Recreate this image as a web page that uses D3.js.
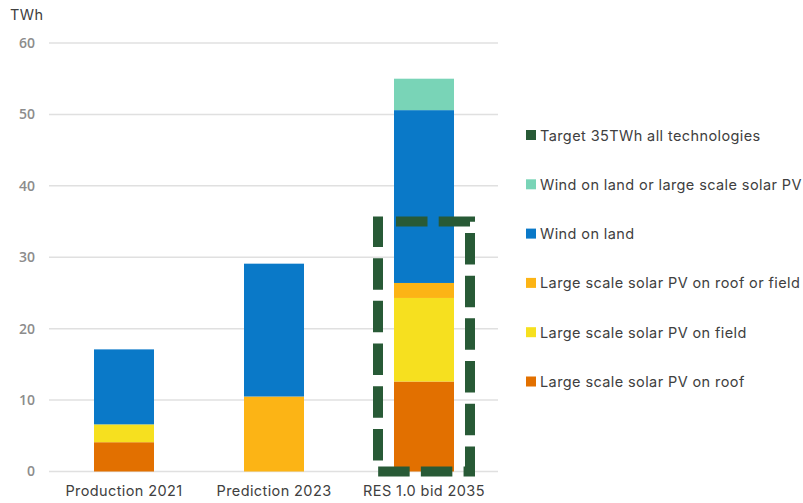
<!DOCTYPE html>
<html>
<head>
<meta charset="utf-8">
<script src="https://cdn.jsdelivr.net/npm/d3@7/dist/d3.min.js"></script>
<style>
  html, body { margin: 0; padding: 0; background: #ffffff; }
  svg { display: block; }
</style>
</head>
<body>
<svg id="chart" width="803" height="503"></svg>
<script>
// Electricity from renewable sources, TWh
const categories = ["Production 2021", "Prediction 2023", "RES 1.0 bid 2035"];
const seriesNames = [
  "Large scale solar PV on roof",
  "Large scale solar PV on field",
  "Large scale solar PV on roof or field",
  "Wind on land",
  "Wind on land or large scale solar PV"
];
const solarRoof        = [4.1, 0, 12.6];
const solarField       = [2.5, 0, 11.7];
const solarRoofOrField = [0, 10.5, 2.1];
const windOnLand       = [10.5, 18.6, 24.2];
const windOrSolar      = [0, 0, 4.4];
const targetName = "Target 35TWh all technologies";
const targetCategory = "RES 1.0 bid 2035";
const targetValue = 35;
const yTicks = [0, 10, 20, 30, 40, 50, 60];

const colors = ["#E27000", "#F6E01F", "#FCB415", "#0A79C8", "#79D4B7"];
const targetColor = "#285A36";

const seriesValues = [solarRoof, solarField, solarRoofOrField, windOnLand, windOrSolar];
const rows = categories.map((c, i) => {
  const r = { category: c };
  seriesNames.forEach((s, k) => { r[s] = seriesValues[k][i]; });
  return r;
});

const svg = d3.select("#chart");
const textFont = "Inter, 'DejaVu Sans', sans-serif";
const textSize = 14.5;
const textSpacing = 0.4;

const x = d3.scaleBand().domain(categories).range([49, 499]).paddingInner(0.6).paddingOuter(0.3);
const y = d3.scaleLinear().domain([0, 60]).range([471.5, 43]);

// gridlines
svg.append("g")
  .selectAll("line")
  .data(yTicks)
  .join("line")
  .attr("x1", 49).attr("x2", 498)
  .attr("y1", d => y(d)).attr("y2", d => y(d))
  .attr("stroke", "#e0e0e0")
  .attr("stroke-width", 1.5);

// y axis labels
const yAxis = d3.axisLeft(y).tickValues(yTicks).tickSize(0).tickPadding(0);
svg.append("g")
  .attr("transform", "translate(35,0)")
  .call(yAxis)
  .call(g => g.select(".domain").remove())
  .selectAll("text")
  .attr("font-family", "'Open Sans', 'Liberation Sans', sans-serif")
  .attr("font-weight", 600)
  .attr("font-size", 14)
  .attr("fill", "#8c8c8c");

svg.append("text")
  .attr("x", 10).attr("y", 20)
  .attr("font-family", textFont)
  .attr("font-size", textSize)
  .attr("letter-spacing", textSpacing)
  .attr("fill", "#404040")
  .text("TWh");

// stacked bars
const stacked = d3.stack().keys(seriesNames)(rows);
svg.append("g")
  .selectAll("g")
  .data(stacked)
  .join("g")
  .attr("fill", (d, i) => colors[i])
  .selectAll("rect")
  .data(d => d.filter(p => p[1] - p[0] > 0))
  .join("rect")
  .attr("x", d => x(d.data.category))
  .attr("width", x.bandwidth())
  .attr("y", d => y(d[1]))
  .attr("height", d => y(d[0]) - y(d[1]));

// x axis labels
const xAxis = d3.axisBottom(x).tickSize(0).tickPadding(0);
svg.append("g")
  .attr("transform", "translate(0,486)")
  .call(xAxis)
  .call(g => g.select(".domain").remove())
  .selectAll("text")
  .attr("font-family", textFont)
  .attr("font-size", textSize)
  .attr("letter-spacing", textSpacing)
  .attr("fill", "#404040");

// dashed target outline around the 2035 bar
const cx = x(targetCategory) + x.bandwidth() / 2;
const boxLeft = cx - 46, boxRight = cx + 46, boxTop = y(targetValue), boxBottom = y(0);
const outline = d3.path();
outline.moveTo(boxLeft + 18, boxTop);
outline.lineTo(boxRight, boxTop);
outline.lineTo(boxRight, boxBottom);
outline.lineTo(boxLeft, boxBottom);
outline.lineTo(boxLeft, boxTop - 5);
svg.append("path")
  .attr("d", outline.toString())
  .attr("fill", "none")
  .attr("stroke", targetColor)
  .attr("stroke-width", 10)
  .attr("stroke-dasharray", "31.5 11.2")
  .attr("stroke-linejoin", "miter");

// legend
const legendItems = [
  { name: targetName, color: targetColor },
  ...seriesNames.map((s, i) => ({ name: s, color: colors[i] })).reverse()
];
const legend = svg.append("g")
  .selectAll("g")
  .data(legendItems)
  .join("g")
  .attr("transform", (d, i) => `translate(526,${135 + i * 49.3})`);
legend.append("rect")
  .attr("x", 0).attr("y", -5)
  .attr("width", 10).attr("height", 10)
  .attr("fill", d => d.color);
legend.append("text")
  .attr("x", 14).attr("y", 0)
  .attr("dy", "0.38em")
  .attr("font-family", textFont)
  .attr("font-size", textSize)
  .attr("letter-spacing", textSpacing)
  .attr("fill", "#404040")
  .text(d => d.name);
</script>
</body>
</html>
